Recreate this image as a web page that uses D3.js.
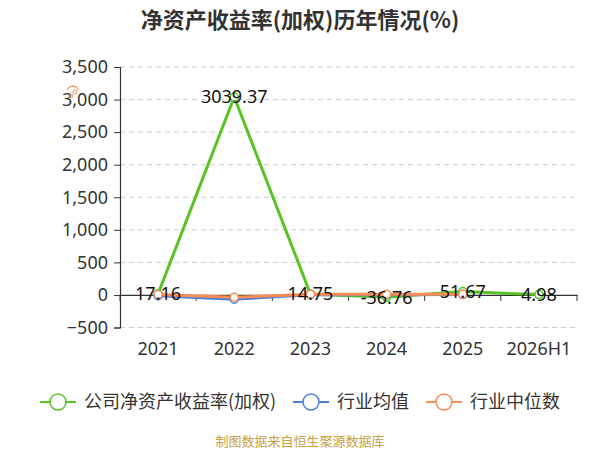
<!DOCTYPE html>
<html>
<head>
<meta charset="utf-8">
<script src="https://cdn.jsdelivr.net/npm/d3@7"></script>
<style>
  body { margin: 0; background: #fff; }
  text { font-family: "Noto Sans CJK SC", "Noto Sans", sans-serif; }
</style>
</head>
<body>
<div id="chart"></div>
<script>
// chart data
var years = ["2021", "2022", "2023", "2024", "2025", "2026H1"];
var companyRoe = [17.16, 3039.37, 14.75, -36.76, 51.67, 4.98];
var industryAvg = [-12, -65, 4, 2, 6];
var industryMedian = [8, -35, 10, 9, 10];
var yTicks = [-500, 0, 500, 1000, 1500, 2000, 2500, 3000, 3500];

var seriesNames = ["公司净资产收益率(加权)", "行业均值", "行业中位数"];
var seriesColors = ["#58c322", "#4d7fdb", "#f78d55"];

var width = 600, height = 450;
var margin = {top: 67, right: 23, bottom: 122, left: 120};

var svg = d3.select("#chart").append("svg")
    .attr("width", width)
    .attr("height", height);

var x = d3.scaleBand()
    .domain(years)
    .range([margin.left, width - margin.right]);

var y = d3.scaleLinear()
    .domain([-500, 3500])
    .range([height - margin.bottom - 0.5, margin.top]);

// title
svg.append("text")
    .attr("x", 300)
    .attr("y", 28)
    .attr("text-anchor", "middle")
    .attr("font-size", 22)
    .attr("font-weight", "bold")
    .attr("fill", "#333")
    .text("净资产收益率(加权)历年情况(%)");

// grid
svg.append("g").selectAll("line")
    .data(yTicks.filter(function(d) { return d !== 0; }))
    .enter().append("line")
    .attr("x1", margin.left)
    .attr("x2", width - margin.right)
    .attr("y1", function(d) { return y(d); })
    .attr("y2", function(d) { return y(d); })
    .attr("stroke", "#ccc")
    .attr("stroke-dasharray", "5,4");

// y axis
var yAxis = svg.append("g")
    .attr("transform", "translate(" + margin.left + ",0)")
    .call(d3.axisLeft(y).tickValues(yTicks).tickSize(6).tickPadding(6)
        .tickFormat(d3.format(",")));
yAxis.select(".domain").attr("stroke", "#333").attr("stroke-width", 1.2);
yAxis.selectAll(".tick line").attr("stroke", "#333");
yAxis.selectAll("text").attr("font-size", 18).attr("fill", "#333")
    .style("font-family", "'Noto Sans', sans-serif");

// x axis at zero
var xAxis = svg.append("g")
    .attr("transform", "translate(0," + y(0) + ")")
    .call(d3.axisBottom(x).tickSize(0).tickFormat(""));
xAxis.select(".domain").attr("stroke", "#333").attr("stroke-width", 1.2);

var bounds = [margin.left].concat(years.map(function(d) { return x(d) + x.bandwidth(); }));
svg.append("g").selectAll("line")
    .data(bounds)
    .enter().append("line")
    .attr("x1", function(d) { return d; })
    .attr("x2", function(d) { return d; })
    .attr("y1", y(0))
    .attr("y2", y(0) + 6)
    .attr("stroke", "#333");

svg.append("g").selectAll("text")
    .data(years)
    .enter().append("text")
    .attr("x", function(d) { return x(d) + x.bandwidth() / 2; })
    .attr("y", 355)
    .attr("text-anchor", "middle")
    .attr("font-size", 18)
    .attr("fill", "#333")
    .style("font-family", "'Noto Sans', sans-serif")
    .text(function(d) { return d; });

var line = d3.line()
    .x(function(d, i) { return x(years[i]) + x.bandwidth() / 2; })
    .y(function(d) { return y(d); });

function drawSeries(values, color) {
    svg.append("path")
        .datum(values)
        .attr("fill", "none")
        .attr("stroke", color)
        .attr("stroke-width", 3)
        .attr("stroke-linejoin", "round")
        .attr("d", line);
    svg.append("g").selectAll("circle")
        .data(values)
        .enter().append("circle")
        .attr("cx", function(d, i) { return x(years[i]) + x.bandwidth() / 2; })
        .attr("cy", function(d) { return y(d); })
        .attr("r", 4)
        .attr("fill", "#fff")
        .attr("stroke", color)
        .attr("stroke-width", 1.5);
}

drawSeries(companyRoe, seriesColors[0]);
drawSeries(industryAvg, seriesColors[1]);
drawSeries(industryMedian, seriesColors[2]);

// data labels on company series
svg.append("g").selectAll("text")
    .data(companyRoe)
    .enter().append("text")
    .attr("x", function(d, i) { return x(years[i]) + x.bandwidth() / 2; })
    .attr("y", function(d) { return y(d); })
    .attr("dy", "0.35em")
    .attr("text-anchor", "middle")
    .attr("font-size", 18)
    .attr("fill", "#111")
    .style("font-family", "'Noto Sans', sans-serif")
    .text(function(d) { return d; });

// small orange marker near y axis
var mark = svg.append("g").attr("transform", "translate(73,92)")
    .attr("fill", "none").attr("stroke", seriesColors[2]).attr("stroke-width", 1);
mark.append("path").attr("d", d3.arc()({innerRadius: 6, outerRadius: 6, startAngle: -1.2, endAngle: 1.2}));
mark.append("circle").attr("cx", 2).attr("cy", 0).attr("r", 2);
mark.append("circle").attr("cx", -2).attr("cy", 4).attr("r", 2);

// legend
var legendX = [40, 293, 426];
var legend = svg.append("g").selectAll("g")
    .data(seriesNames)
    .enter().append("g")
    .attr("transform", function(d, i) { return "translate(" + legendX[i] + ",402)"; });
legend.append("line")
    .attr("x1", 0).attr("x2", 36)
    .attr("stroke", function(d, i) { return seriesColors[i]; })
    .attr("stroke-width", 2);
legend.append("circle")
    .attr("cx", 18).attr("r", 8)
    .attr("fill", "#fff")
    .attr("stroke", function(d, i) { return seriesColors[i]; })
    .attr("stroke-width", 1.5);
legend.append("text")
    .attr("x", 44)
    .attr("dy", "0.35em")
    .attr("font-size", 18)
    .attr("fill", "#333")
    .text(function(d) { return d; });

// footer
svg.append("text")
    .attr("x", 300)
    .attr("y", 446)
    .attr("text-anchor", "middle")
    .attr("font-size", 13)
    .attr("fill", "#c9a045")
    .text("制图数据来自恒生聚源数据库");
</script>
</body>
</html>
